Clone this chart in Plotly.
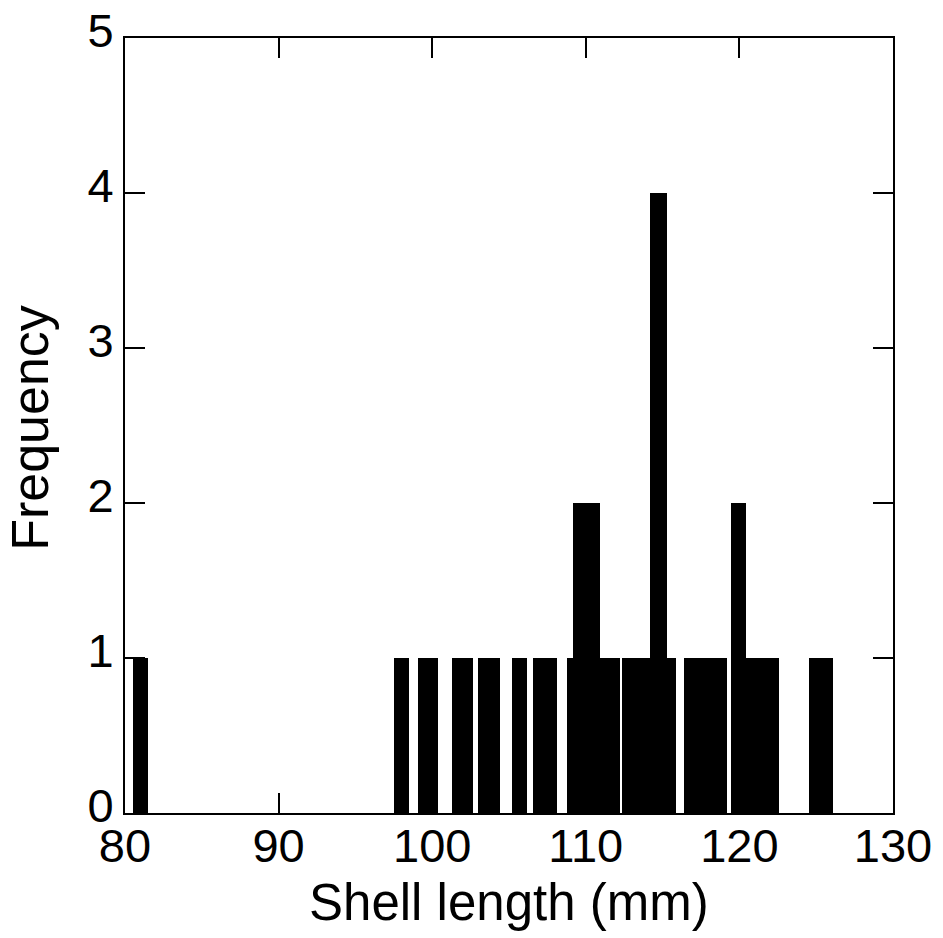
import plotly.graph_objects as go

# Shell-length histogram: bin edges (mm) and counts per bin
bin_left = [80.5, 97.5, 99.05, 101.3, 102.95, 105.2, 106.55,
            108.8, 109.15, 110.95, 112.35, 114.2, 115.3,
            116.4, 119.45, 120.45, 124.55]
bin_right = [81.5, 98.5, 100.4, 102.65, 104.4, 106.2, 108.15,
             109.15, 110.95, 112.2, 114.2, 115.3, 115.9,
             119.2, 120.45, 122.55, 126.1]
counts = [1, 1, 1, 1, 1, 1, 1,
          1, 2, 1, 1, 4, 1,
          1, 2, 1, 1]

x_ticks = [80, 90, 100, 110, 120, 130]
y_ticks = [0, 1, 2, 3, 4, 5]

centers = [(a + b) / 2 for a, b in zip(bin_left, bin_right)]
widths = [b - a for a, b in zip(bin_left, bin_right)]

FONT = "Liberation Sans, Arial, Helvetica, sans-serif"

fig = go.Figure(
    go.Bar(
        x=centers,
        y=counts,
        width=widths,
        marker=dict(color="black", line=dict(width=0)),
        showlegend=False,
    )
)

axis_common = dict(
    showgrid=False,
    zeroline=False,
    showline=True,
    linecolor="black",
    linewidth=2,
    mirror="ticks",
    ticks="inside",
    ticklen=20,
    tickwidth=2,
    tickcolor="black",
    automargin=False,
    tickfont=dict(family=FONT, size=47, color="black"),
)

fig.update_xaxes(range=[80, 130], tickvals=x_ticks, ticklabelstandoff=-9,
                 **axis_common)
fig.update_yaxes(range=[0, 5], tickvals=y_ticks, ticklabelshift=-7,
                 **axis_common)

fig.add_annotation(
    text="Shell length (mm)", xref="paper", yref="paper",
    x=0.5, y=-0.1155, xanchor="center", yanchor="middle",
    showarrow=False, font=dict(family=FONT, size=51, color="black"),
)
fig.add_annotation(
    text="Frequency", xref="paper", yref="paper",
    x=-0.1237, y=0.497, xanchor="center", yanchor="middle",
    textangle=-90, showarrow=False,
    font=dict(family=FONT, size=52, color="black"),
)

fig.update_layout(
    width=943,
    height=938,
    margin=dict(l=125, r=50, t=38, b=125),
    paper_bgcolor="white",
    plot_bgcolor="white",
    bargap=0,
    barmode="overlay",
)

fig.write_html("out.html")
